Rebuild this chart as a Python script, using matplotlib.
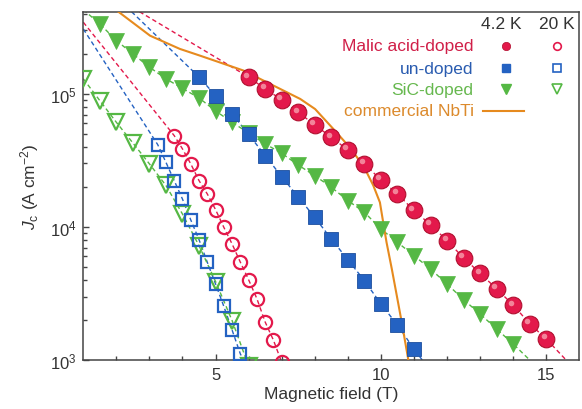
import matplotlib
matplotlib.use("Agg")
import matplotlib.pyplot as plt
from matplotlib import transforms
from matplotlib.ticker import FixedLocator, LogLocator, NullFormatter, LogFormatterMathtext

plt.rcParams["font.family"] = ["Liberation Sans", "DejaVu Sans"]
plt.rcParams["mathtext.fontset"] = "custom"
plt.rcParams["mathtext.rm"] = "Liberation Sans"
plt.rcParams["mathtext.it"] = "Liberation Sans:italic"
plt.rcParams["mathtext.bf"] = "Liberation Sans:bold"

# ---------------- data ----------------
# Malic acid-doped, 4.2 K (filled circles)
malic42_x = [6.0, 6.5, 7.0, 7.5, 8.0, 8.5, 9.0, 9.5, 10.0, 10.5, 11.0, 11.5,
             12.0, 12.5, 13.0, 13.5, 14.0, 14.5, 15.0]
malic42_y = [1.34e5, 1.09e5, 9.06e4, 7.28e4, 5.85e4, 4.72e4, 3.79e4, 2.98e4,
             2.26e4, 1.77e4, 1.33e4, 1.04e4, 7.89e3, 5.85e3, 4.49e3, 3.42e3,
             2.59e3, 1.87e3, 1.44e3]
malic42_fit_start = (2.7, 4.15e5)
malic42_fit_end = (15.6, 1.0e3)

# Malic acid-doped, 20 K (open circles)
malic20_x = [3.75, 4.0, 4.25, 4.5, 4.75, 5.0, 5.25, 5.5, 5.75, 6.0, 6.25, 6.5,
             6.75, 7.0]
malic20_y = [4.86e4, 3.86e4, 2.98e4, 2.23e4, 1.77e4, 1.35e4, 9.94e3, 7.45e3,
             5.43e3, 4.01e3, 2.89e3, 1.93e3, 1.41e3, 9.6e2]
malic20_fit_start = (1.0, 3.46e5)
malic20_fit_end = (7.1, 8.5e2)

# un-doped, 4.2 K (filled squares)
undoped42_x = [4.5, 5.0, 5.5, 6.0, 6.5, 7.0, 7.5, 8.0, 8.5, 9.0, 9.5, 10.0,
               10.5, 11.0]
undoped42_y = [1.34e5, 9.71e4, 7.07e4, 4.96e4, 3.44e4, 2.39e4, 1.68e4, 1.18e4,
               8.12e3, 5.68e3, 3.95e3, 2.64e3, 1.83e3, 1.21e3]
undoped42_fit_start = (2.46, 4.15e5)
undoped42_fit_end = (11.25, 1.0e3)

# un-doped, 20 K (open squares)
undoped20_x = [3.25, 3.5, 3.75, 4.0, 4.25, 4.5, 4.75, 5.0, 5.25, 5.5, 5.75]
undoped20_y = [4.16e4, 3.06e4, 2.23e4, 1.62e4, 1.13e4, 8.03e3, 5.43e3,
               3.73e3, 2.53e3, 1.68e3, 1.11e3]
undoped20_fit_start = (1.0, 3.08e5)
undoped20_fit_end = (5.95, 9.0e2)

# SiC-doped, 4.2 K (filled down-triangles)
sic42_x = [1.5, 2.0, 2.5, 3.0, 3.5, 4.0, 4.5, 5.0, 5.5, 6.0, 6.5, 7.0, 7.5,
           8.0, 8.5, 9.0, 9.5, 10.0, 10.5, 11.0, 11.5, 12.0, 12.5, 13.0, 13.5,
           14.0]
sic42_y = [3.36e5, 2.52e5, 2.0e5, 1.59e5, 1.30e5, 1.10e5, 9.33e4, 7.45e4,
           6.12e4, 5.09e4, 4.21e4, 3.58e4, 2.92e4, 2.43e4, 1.99e4, 1.58e4,
           1.29e4, 9.66e3, 7.67e3, 6.09e3, 4.83e3, 3.73e3, 2.84e3, 2.22e3,
           1.71e3, 1.32e3]
sic42_fit_start = (1.0, 4.3e5)
sic42_fit_end = (14.5, 1.0e3)

# SiC-doped, 20 K (open down-triangles)
sic20_x = [1.0, 1.5, 2.0, 2.5, 3.0, 3.5, 4.0, 4.5, 5.0, 5.5, 6.0]
sic20_y = [1.30e5, 8.91e4, 6.12e4, 4.28e4, 2.98e4, 2.05e4, 1.25e4, 7.23e3,
           3.89e3, 1.98e3, 9.0e2]

# commercial NbTi (solid line)
nbti_x = [2.06, 3.02, 3.92, 4.53, 5.84, 7.56, 8.01, 8.56, 9.01, 9.47, 9.77,
          9.97, 10.07, 10.17, 10.33, 10.48, 10.63, 10.83]
nbti_y = [4.15e5, 2.74e5, 2.18e5, 1.94e5, 1.50e5, 9.17e4, 7.7e4, 5.46e4,
          4.09e4, 2.89e4, 2.05e4, 1.53e4, 1.08e4, 7.67e3, 4.83e3, 3.05e3,
          1.92e3, 1.0e3]

# text
legend_labels = ["Malic acid-doped", "un-doped", "SiC-doped", "commercial NbTi"]
temp_headers = ["4.2 K", "20 K"]
xlabel = "Magnetic field (T)"
ylabel = r"$J_{\rm c}$ (A cm$^{-2}$)"

# ---------------- style ----------------
RED = "#e3194b"
RED_EDGE = "#b0102f"
BLUE = "#2462c2"
GREEN = "#55b844"
ORANGE = "#e68a1e"
TXT = "#333333"

fig = plt.figure(figsize=(5.82, 4.10), dpi=100)
ax = fig.add_axes([0.1431, 0.1195, 0.8523, 0.8495])
ax.set_yscale("log")
ax.set_xlim(1, 16)
ax.set_ylim(1e3, 4.15e5)

dash = (3.2, 2.2)


def fit_line(start, xs, ys, end, color):
    lx = [start[0]] + list(xs) + [end[0]]
    ly = [start[1]] + list(ys) + [end[1]]
    ax.plot(lx, ly, color=color, lw=1.0, dashes=dash, zorder=2)


fit_line(malic42_fit_start, malic42_x, malic42_y, malic42_fit_end, RED)
fit_line(malic20_fit_start, malic20_x, malic20_y, malic20_fit_end, RED)
fit_line(undoped42_fit_start, undoped42_x, undoped42_y, undoped42_fit_end, BLUE)
fit_line(undoped20_fit_start, undoped20_x, undoped20_y, undoped20_fit_end, BLUE)
fit_line(sic42_fit_start, sic42_x, sic42_y, sic42_fit_end, GREEN)
ax.plot(sic20_x, sic20_y, color=GREEN, lw=1.0, dashes=dash, zorder=2)

# NbTi
ax.plot(nbti_x, nbti_y, color=ORANGE, lw=1.5, zorder=3)

# 20 K open markers
ax.plot(sic20_x, sic20_y, "v", ms=11.5, mfc="none", mec=GREEN, mew=1.6, zorder=4)
ax.plot(undoped20_x, undoped20_y, "s", ms=8.5, mfc="none", mec=BLUE, mew=1.6, zorder=4)
ax.plot(malic20_x, malic20_y, "o", ms=9.5, mfc="none", mec=RED, mew=1.6, zorder=4)

# 4.2 K filled markers
ax.plot(sic42_x, sic42_y, "v", ms=12, mfc=GREEN, mec=GREEN, mew=0.5, zorder=4)
ax.plot(undoped42_x, undoped42_y, "s", ms=10.5, mfc=BLUE, mec="#1d4f9e", mew=0.6, zorder=5)
ax.plot(malic42_x, malic42_y, "o", ms=12, mfc=RED, mec=RED_EDGE, mew=0.8, zorder=5)
hl = transforms.offset_copy(ax.transData, fig=fig, x=-2.5, y=2.5, units="dots")
ax.plot(malic42_x, malic42_y, "o", ms=4, mfc="#f7a0ae", mec="none", alpha=0.8,
        transform=hl, zorder=6)

# axes styling
for s in ax.spines.values():
    s.set_color("#444444")
    s.set_linewidth(1.1)
ax.xaxis.set_major_locator(FixedLocator([5, 10, 15]))
ax.xaxis.set_minor_locator(FixedLocator(range(2, 16)))
ax.yaxis.set_major_locator(LogLocator(base=10, numticks=10))
ax.yaxis.set_minor_locator(LogLocator(base=10, subs=range(2, 10), numticks=20))
ax.yaxis.set_major_formatter(LogFormatterMathtext())
ax.yaxis.set_minor_formatter(NullFormatter())
ax.tick_params(which="both", direction="in", top=False, right=False,
               colors="#444444", labelcolor=TXT, labelsize=12, width=1.0)
ax.tick_params(which="major", length=4.5, pad=5)
ax.tick_params(which="minor", length=3)

ax.set_xlabel(xlabel, fontsize=12.5, color=TXT, labelpad=3)
ax.set_ylabel(ylabel, fontsize=12.5, color=TXT, labelpad=6)

# ---------------- custom legend ----------------
T = ax.transAxes
text_right = 0.787
col42 = 0.852
col20 = 0.954
rows = [0.902, 0.838, 0.778, 0.716]
head_y = 0.965
lab_colors = ["#d01f48", "#2a5cb0", "#66b84e", "#dc8a2c"]

ax.text(0.8435, head_y, temp_headers[0], transform=T, ha="center", va="center",
        fontsize=12.5, color=TXT)
ax.text(col20, head_y, temp_headers[1], transform=T, ha="center", va="center",
        fontsize=12.5, color=TXT)
for lab, yy, c in zip(legend_labels, rows, lab_colors):
    ax.text(text_right, yy, lab, transform=T, ha="right", va="center",
            fontsize=12.5, color=c)

ax.plot([col42], [rows[0]], "o", ms=6, mfc=RED, mec=RED_EDGE, mew=0.5, transform=T)
ax.plot([col20], [rows[0]], "o", ms=5.5, mfc="none", mec=RED, mew=1.2, transform=T)
ax.plot([col42], [rows[1]], "s", ms=5.5, mfc=BLUE, mec=BLUE, transform=T)
ax.plot([col20], [rows[1]], "s", ms=5.5, mfc="none", mec=BLUE, mew=1.2, transform=T)
ax.plot([col42], [rows[2]], "v", ms=7, mfc=GREEN, mec=GREEN, transform=T)
ax.plot([col20], [rows[2]], "v", ms=7, mfc="none", mec=GREEN, mew=1.2, transform=T)
ax.plot([0.805, 0.889], [rows[3], rows[3]], color=ORANGE, lw=1.5, transform=T)

fig.savefig("out.png", dpi=100)
